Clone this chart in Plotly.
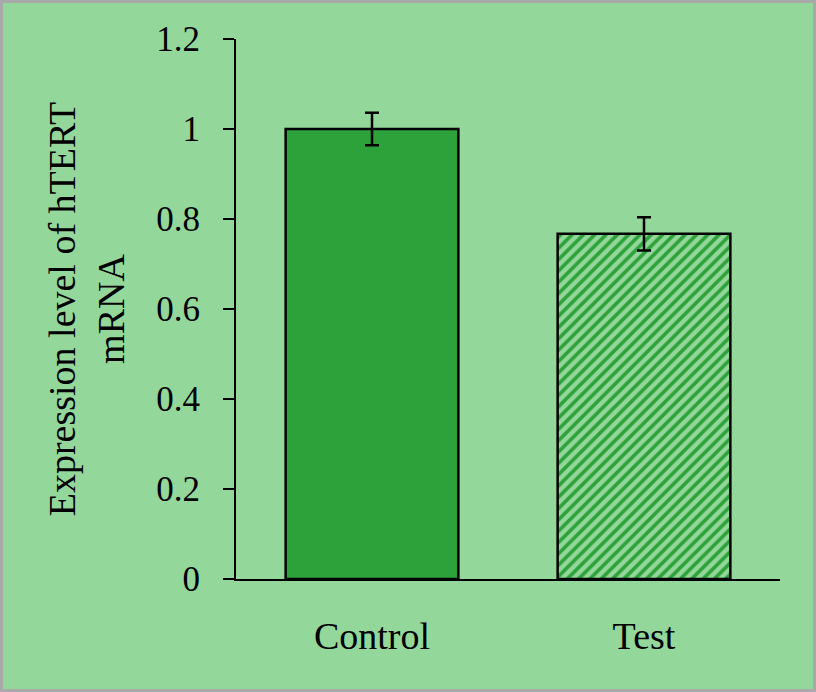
import plotly.graph_objects as go

groups = ["Control", "Test"]
expression = [1.0, 0.767]
errors = [0.036, 0.037]
y_ticks = [0, 0.2, 0.4, 0.6, 0.8, 1.0, 1.2]
y_tick_text = ["0", "0.2", "0.4", "0.6", "0.8", "1", "1.2"]

BG = "#94D79A"
BAR = "#2EA23A"
FONT = "Liberation Serif, Times New Roman, serif"

W, H = 816, 692
ML, MR, MT, MB = 236, 36, 39, 113

fig = go.Figure()
for i, g in enumerate(groups):
    marker = dict(color=BAR, line=dict(color="black", width=2.5))
    if g == "Test":
        marker["color"] = BG
        marker["pattern"] = dict(shape="/", fgcolor=BAR, bgcolor=BG,
                                 fgopacity=1, size=8, solidity=0.45)
    fig.add_trace(go.Bar(
        x=[g], y=[expression[i]], width=0.635, marker=marker,
        error_y=dict(type="data", array=[errors[i]], color="black",
                     thickness=2.5, width=7),
    ))

# grey frame round the whole picture
pw, ph = W - ML - MR, H - MT - MB
fig.add_shape(type="rect", xref="paper", yref="paper",
              x0=-(ML - 1.5) / pw, x1=1 + (MR - 1.5) / pw,
              y0=-(MB - 1.5) / ph, y1=1 + (MT - 1.5) / ph,
              line=dict(color="#A9A9A9", width=3), layer="below")

fig.update_layout(
    width=W, height=H,
    margin=dict(l=ML, r=MR, t=MT, b=MB),
    paper_bgcolor=BG, plot_bgcolor=BG,
    font=dict(family=FONT, size=35, color="black"),
    showlegend=False,
    barmode="overlay",
    xaxis=dict(
        showline=True, linecolor="black", linewidth=2,
        ticks="", showgrid=False, ticklabelstandoff=22,
        tickfont=dict(size=38),
    ),
    yaxis=dict(
        range=[0, 1.2],
        tickvals=y_ticks, ticktext=y_tick_text,
        showline=True, linecolor="black", linewidth=2,
        ticks="outside", ticklen=11, tickwidth=2, tickcolor="black",
        showgrid=False, zeroline=False, ticklabelstandoff=16,
        title=dict(text="Expression level of hTERT<br>mRNA",
                   font=dict(size=38), standoff=20),
    ),
)

fig.write_html("out.html", config={"displayModeBar": False},
               post_script="document.body.style.margin='0';")
